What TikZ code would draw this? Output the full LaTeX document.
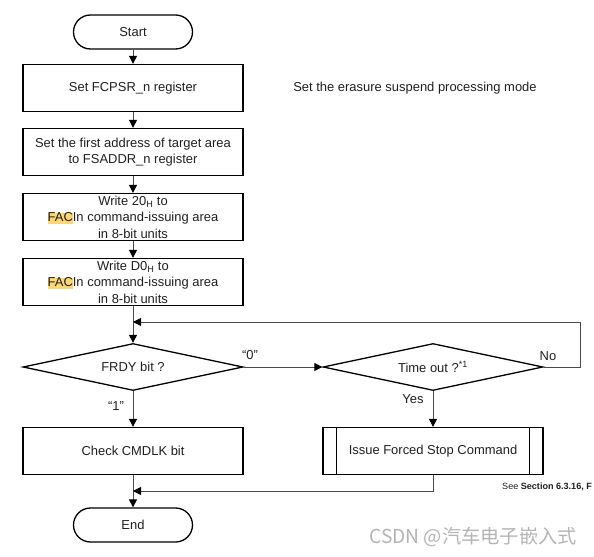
\documentclass[tikz,border=0pt]{standalone}
\usepackage{fontspec}
\setmainfont{Liberation Sans}
\newfontfamily\cjkfont{Noto Sans CJK SC}
\usetikzlibrary{arrows.meta,shapes.geometric,calc}
\definecolor{hl}{HTML}{FCD672}
\definecolor{conn}{HTML}{4A4A4A}
\definecolor{wm}{HTML}{B4B4B4}
\newcommand{\hlFAC}{{\setlength{\fboxsep}{0pt}\colorbox{hl}{\vphantom{Ag}FAC}}}
\begin{document}
\begin{tikzpicture}[x=1bp,y=-1bp,
  every node/.style={font=\fontsize{13}{16.5}\selectfont, text=black!88},
  procbox/.style={draw=black, line width=1.3bp, minimum width=220bp, minimum height=47bp, inner sep=0pt, align=center},
  termbox/.style={draw=black, line width=1.3bp, rounded corners=17bp, minimum width=119bp, minimum height=34bp, inner sep=0pt},
  decbox/.style={diamond, draw=black, line width=1.3bp, aspect=4.68, minimum width=220bp, minimum height=47bp, inner sep=0pt},
  conn/.style={draw=conn, line width=1bp, -{Triangle[length=8bp,width=8bp,color=black]}},
  lbl/.style={inner sep=0pt}
]
\useasboundingbox (0,0) rectangle (594,557);
\clip (0,0) rectangle (594,557);

\node[termbox] (start) at (133,32) {Start};
\node[procbox] (b1) at (133,88) {Set FCPSR\_n register};
\node[procbox] (b2) at (133,152) {Set the first address of target area\\to FSADDR\_n register};
\node[procbox] (b3) at (133,217) {Write 20\textsubscript{H} to\\\hlFAC In command-issuing area\\in 8-bit units};
\node[procbox] (b4) at (133,282) {Write D0\textsubscript{H} to\\\hlFAC In command-issuing area\\in 8-bit units};
\node[decbox] (frdy) at (133,367) {FRDY bit ?};
\node[decbox] (tmo) at (433,367) {Time out ?\textsuperscript{*1}};
\node[procbox] (chk) at (133,451) {Check CMDLK bit};
\node[procbox] (iss) at (433,451) {Issue Forced Stop Command};
\draw[line width=1.3bp] ([xshift=14bp]iss.north west) -- ([xshift=14bp]iss.south west)
  ([xshift=-14bp]iss.north east) -- ([xshift=-14bp]iss.south east);
\node[termbox] (end) at (133,525) {End};

\node[lbl] (note) at (415,88) {Set the erasure suspend processing mode};

\coordinate (loopj) at (133,322);
\coordinate (loopr) at (580,322);
\coordinate (mergej) at (133,491);

\draw[conn] (start) -- (b1);
\draw[conn] (b1) -- (b2);
\draw[conn] (b2) -- (b3);
\draw[conn] (b3) -- (b4);
\draw[conn] (b4) -- (frdy);
\draw[conn] (frdy.east) -- (tmo.west);
\draw[conn] (tmo.east) -| (loopr) -- (loopj);
\draw[conn] (frdy.south) -- (chk.north);
\draw[conn] (tmo.south) -- (iss.north);
\draw[conn] (chk) -- (end);
\draw[conn] (iss.south) |- (mergej);

\node[lbl] (l0) at (250,355) {“0”};
\node[lbl] (l1) at (116,406) {“1”};
\node[lbl] (lno) at (548,356) {No};
\node[lbl] (lyes) at (413,399) {Yes};

\node[lbl, anchor=west, font=\fontsize{9.1}{10}\selectfont] (see) at (502,487) {See \textbf{Section 6.3.16, F}};
\node[lbl, text=wm, font=\cjkfont\fontsize{19.3}{22}\selectfont] (wmk) at (473,537) {CSDN @汽车电子嵌入式};
\end{tikzpicture}
\end{document}
